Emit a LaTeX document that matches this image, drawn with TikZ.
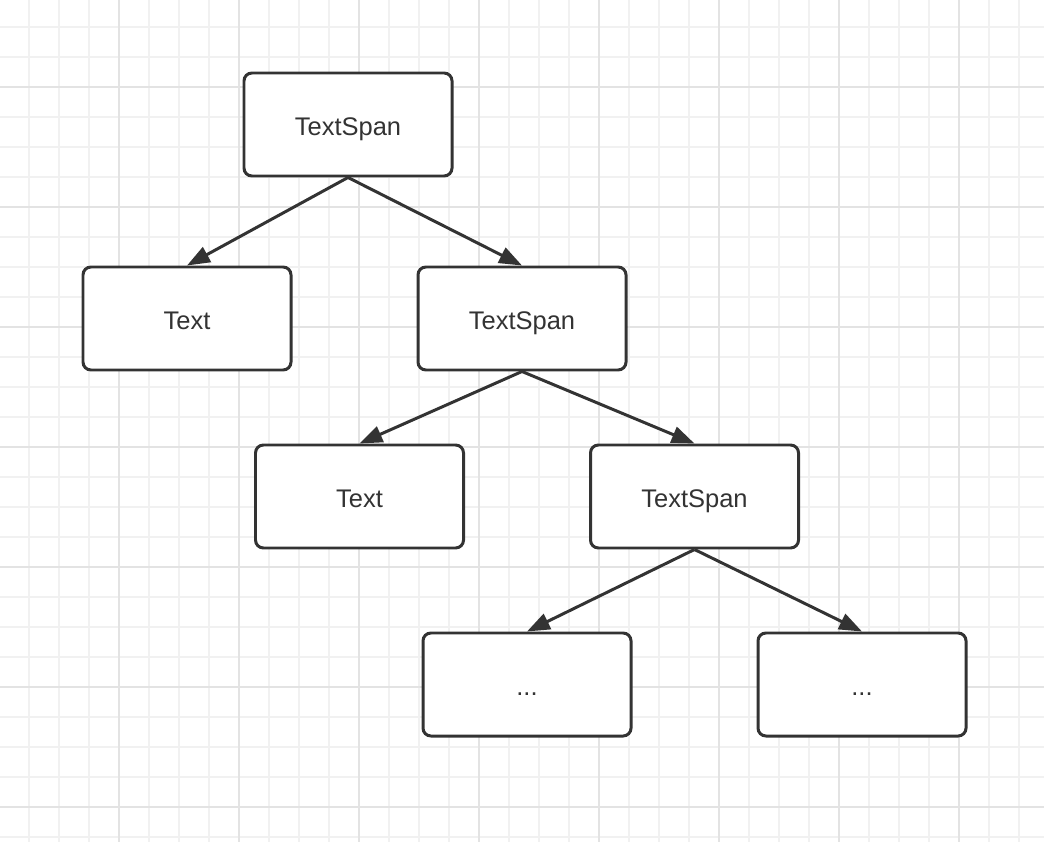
\documentclass[tikz,border=0pt]{standalone}
\usepackage{fontspec}
\setmainfont{Liberation Sans}
\usetikzlibrary{arrows.meta}
\definecolor{linegray}{HTML}{333333}
\definecolor{gridminor}{HTML}{F1F1F1}
\definecolor{gridmajor}{HTML}{E3E3E3}
\tikzset{
  spanbox/.style={draw=linegray, line width=1.7pt, rounded corners=4.5pt, fill=white,
    minimum width=4.16cm, minimum height=2.06cm, text=linegray,
    text height=12pt, text depth=0pt,
    font=\fontsize{14.5}{17}\selectfont},
}
\begin{document}
\begin{tikzpicture}[sibling distance=6.7cm,
    every node/.style={spanbox},
    edge from parent/.style={draw=linegray, line width=1.7pt,
      -{Triangle[length=13pt,width=9.5pt]}},
    edge from parent path={(\tikzparentnode.south) -- (\tikzchildnode.north)},
    level 1/.style={level distance=3.88cm, every node/.style={spanbox, xshift=0.13cm}},
    level 2/.style={level distance=3.56cm, every node/.style={spanbox, xshift=0.1cm}},
    level 3/.style={level distance=3.76cm, every node/.style={spanbox}}]
  % background grid
  \fill[white] (0,0) rectangle (20.88,-16.84);
  \useasboundingbox (0,0) rectangle (20.88,-16.84);
  \foreach \i in {0,...,33} {
    \draw[gridminor, line width=0.8pt] ({0.58+0.6*\i},0) -- ({0.58+0.6*\i},-16.84);
  }
  \foreach \i in {0,...,27} {
    \draw[gridminor, line width=0.8pt] (0,{-0.54-0.6*\i}) -- (20.88,{-0.54-0.6*\i});
  }
  \foreach \i in {3,7,...,31} {
    \draw[gridmajor, line width=0.8pt] ({0.58+0.6*\i},0) -- ({0.58+0.6*\i},-16.84);
  }
  \foreach \i in {2,6,...,26} {
    \draw[gridmajor, line width=0.8pt] (0,{-0.54-0.6*\i}) -- (20.88,{-0.54-0.6*\i});
  }
  % tree
  \node (span1) at (6.96,-2.49) {TextSpan}
    child {
      node (text1) {Text}
    }
    child {
      node (span2) {TextSpan}
      child {
        node (text2) {Text}
      }
      child {
        node (span3) {TextSpan}
        child { node (more1) {...} }
        child { node (more2) {...} }
      }
    };
\end{tikzpicture}
\end{document}
